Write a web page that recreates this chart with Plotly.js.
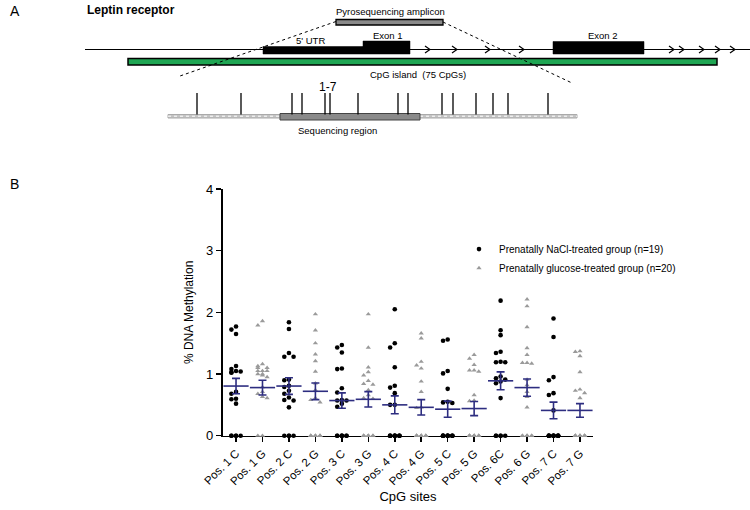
<!DOCTYPE html>
<html><head><meta charset="utf-8">
<script src="https://cdn.plot.ly/plotly-3.0.1.min.js"></script>
<style>html,body{margin:0;padding:0;background:#fff}#chart{width:750px;height:510px}</style>
</head><body><div id="chart"></div>
<script>
// ---------- Panel B data ----------
const categories = ['Pos. 1 C','Pos. 1 G','Pos. 2 C','Pos. 2 G','Pos. 3 C','Pos. 3 G','Pos. 4 C','Pos. 4 G','Pos. 5 C','Pos. 5 G','Pos. 6C','Pos. 6 G','Pos. 7 C','Pos. 7 G'];
const seriesNames = ['Prenatally NaCl-treated group (n=19)', 'Prenatally glucose-treated group (n=20)'];
const yTicks = [0, 1, 2, 3, 4];

const nacl1 = [1.77,1.72,1.65,1.13,1.08,1.05,1.04,1.03,1.02,0.71,0.68,0.60,0.59,0.52,0,0,0,0,0];
const gluc1 = [1.86,1.79,1.16,1.13,1.10,1.10,1.05,1.05,1.05,1.00,1.00,0.98,0.95,0.79,0.71,0.68,0.63,0.61,0,0];
const nacl2 = [1.84,1.73,1.34,1.28,1.28,0.91,0.90,0.81,0.79,0.73,0.68,0.62,0.58,0.57,0.46,0,0,0,0];
const gluc2 = [1.97,1.71,1.50,1.32,1.21,1.04,0.85,0.74,0.61,0.58,0.54,0,0,0,0,0,0,0,0,0];
const nacl3 = [1.47,1.43,1.35,1.09,1.08,0.77,0.70,0.58,0.57,0.57,0.52,0.47,0,0,0,0,0,0,0];
const gluc3 = [1.97,1.43,1.11,1.03,0.98,0.89,0.84,0.83,0.74,0.66,0.61,0.60,0,0,0,0,0,0,0,0];
const nacl4 = [2.05,1.50,1.43,1.11,0.81,0.78,0.69,0.50,0.50,0,0,0,0,0,0,0,0,0,0];
const gluc4 = [1.66,1.58,1.20,1.14,1.09,0.88,0.71,0.46,0.45,0,0,0,0,0,0,0,0,0,0,0];
const nacl5 = [1.56,1.54,1.05,1.01,0.76,0.55,0.54,0.53,0,0,0,0,0,0,0,0,0,0,0];
const gluc5 = [1.31,1.25,1.15,1.06,1.06,1.04,0.66,0.57,0.56,0,0,0,0,0,0,0,0,0,0,0];
const nacl6 = [2.19,1.71,1.63,1.36,1.34,1.20,1.19,1.19,0.96,0.93,0.91,0.88,0.85,0.61,0,0,0,0,0];
const gluc6 = [2.21,2.10,1.76,1.42,1.31,1.18,1.18,1.17,0.91,0.82,0.71,0.63,0.46,0,0,0,0,0,0,0];
const nacl7 = [1.90,1.60,0.95,0.90,0.69,0.66,0.41,0,0,0,0,0,0,0,0,0,0,0,0];
const gluc7 = [1.37,1.36,1.29,1.03,0.75,0.73,0.69,0.61,0,0,0,0,0,0,0,0,0,0,0,0];

const meanValues = [0.805,0.78,0.805,0.72,0.57,0.59,0.50,0.46,0.43,0.44,0.89,0.78,0.41,0.41];
const semValues  = [0.125,0.12,0.135,0.135,0.125,0.125,0.145,0.125,0.13,0.115,0.145,0.14,0.135,0.11];

// ---------- Panel A diagram data (diagram units) ----------
const cpgSites = [197,241,292,302,325,330,358,398,408,442,453,476,493,508,548];
const chevronSites = [428,455,488,522,672,682,702,718,733];
const utrBlock = [263, 363];
const exon1Block = [363, 410];
const exon2Block = [553, 644];
const cpgIsland = [128, 717];
const amplicon = [336, 443];
const seqRegion = [280, 420];
const zoomBase = [168, 577];

// ---------- build ----------
const FONT = 'Arial, "Liberation Sans", sans-serif';
const NAVY = '#2d2d80';
const naclGroups = [nacl1,nacl2,nacl3,nacl4,nacl5,nacl6,nacl7];
const glucGroups = [gluc1,gluc2,gluc3,gluc4,gluc5,gluc6,gluc7];

// simple deterministic beeswarm spread (pixel scale of the axes)
const pxPerX = 370.4/14, pxPerY = 246.7/4, diam = 4.6, step = 0.175;
function swarm(vals, center){
  const placed = [], xs = [];
  vals.forEach(v => {
    let chosen = null;
    for (const k of [0,-1,1]) {
      const off = k*step;
      if (placed.every(p => Math.hypot((off-p.o)*pxPerX, (v-p.v)*pxPerY) >= diam)) { chosen = off; break; }
    }
    if (chosen === null) {
      const n = placed.filter(p => Math.abs(p.v - v) < 0.02).length;
      chosen = [0,-1,1][n % 3]*step;
    }
    placed.push({o: chosen, v: v});
    xs.push(center + chosen);
  });
  return xs;
}

function groupTrace(groups, offsetIdx, name, marker){
  let xs = [], ys = [];
  groups.forEach((g, i) => {
    xs = xs.concat(swarm(g, i*2 + offsetIdx));
    ys = ys.concat(g);
  });
  return {type:'scatter', mode:'markers', x:xs, y:ys, name:name, marker:marker,
          cliponaxis:false, xaxis:'x', yaxis:'y', hoverinfo:'y'};
}

const traces = [
  groupTrace(naclGroups, 0, seriesNames[0], {symbol:'circle', size:4.6, color:'#000'}),
  groupTrace(glucGroups, 1, seriesNames[1], {symbol:'triangle-up', size:4.6, color:'#9a9a9a'}),
  {type:'scatter', mode:'markers', x:categories.map((c,i)=>i), y:meanValues, showlegend:false,
   cliponaxis:false, xaxis:'x', yaxis:'y',
   marker:{symbol:'line-ew', size:18, color:NAVY, line:{color:NAVY, width:1.6}},
   error_y:{type:'data', array:semValues, visible:true, color:NAVY, thickness:1.6, width:4}}
];

// diagram shapes
const Y = {line:49.5};
const shapes = [];
function rect(x0,x1,y0,y1,fill,lw,lc){ shapes.push({type:'rect', xref:'x2', yref:'y2', x0:x0,x1:x1,y0:y0,y1:y1, fillcolor:fill, line:{color:lc||'#000', width:lw}, layer:'above'}); }
function line(x0,y0,x1,y1,w,dash,c){ shapes.push({type:'line', xref:'x2', yref:'y2', x0:x0,y0:y0,x1:x1,y1:y1, line:{color:c||'#000', width:w, dash:dash||'solid'}, layer:'above'}); }

line(85, Y.line, 750, Y.line, 1.2);
chevronSites.forEach(x => shapes.push({type:'path', xref:'x2', yref:'y2',
  path:`M ${x-3},${Y.line-3.5} L ${x+2},${Y.line} L ${x-3},${Y.line+3.5}`, line:{color:'#000', width:1.2}, layer:'above'}));
rect(utrBlock[0], utrBlock[1], 46.5, 54, '#000', 0.5);
rect(exon1Block[0], exon1Block[1], 41, 54, '#000', 0.5);
rect(exon2Block[0], exon2Block[1], 41.5, 54, '#000', 0.5);
rect(cpgIsland[0], cpgIsland[1], 58.5, 65, '#1fa653', 1.5);
rect(amplicon[0], amplicon[1], 19.5, 25, '#8a8a8a', 1.3);
line(amplicon[0], 21.5, 180, 76, 1, 'dot');
line(amplicon[1], 22, 572, 83, 1, 'dot');
rect(zoomBase[0], zoomBase[1], 114.5, 118, '#c4c4c4', 1, '#aaaaaa');
line(zoomBase[0], 116.2, zoomBase[1], 116.2, 1, 'dot', '#ffffff');
rect(seqRegion[0], seqRegion[1], 113.5, 120, '#8a8a8a', 1, '#444');
cpgSites.forEach(x => line(x, 93, x, 114.5, 1.3));

function txt(text, x, y, size, opts){
  return Object.assign({text:text, x:x, y:y, xref:'x2', yref:'y2', showarrow:false,
    font:{family:FONT, size:size, color:'#000'}, xanchor:'center', yanchor:'middle'}, opts||{});
}
const annotations = [
  txt('A', 8, 11, 14, {xanchor:'left'}),
  txt('B', 8, 184, 14, {xanchor:'left'}),
  txt('<b>Leptin receptor</b>', 85, 10, 12, {xanchor:'left'}),
  txt('Pyrosequencing amplicon', 390, 11, 9.5),
  txt("5' UTR", 310, 40.5, 9.5),
  txt('Exon 1', 388, 35, 9.5),
  txt('Exon 2', 603, 35, 9.5),
  txt('CpG island  (75 CpGs)', 418, 74, 9.5),
  txt('1-7', 328, 87, 12),
  txt('Sequencing region', 337, 130, 9.5)
];

const layout = {
  width:750, height:510, margin:{l:0, r:0, t:0, b:0},
  paper_bgcolor:'#fff', plot_bgcolor:'rgba(0,0,0,0)',
  font:{family:FONT, color:'#000'},
  showlegend:true,
  legend:{x:0.612, y:0.54, xanchor:'left', yanchor:'top', font:{size:10, family:FONT}, bgcolor:'rgba(0,0,0,0)', tracegroupgap:0},
  xaxis:{domain:[222.8/750, 593.2/750], range:[-0.5, 13.5], tickvals:categories.map((c,i)=>i), ticktext:categories,
    tickangle:-45, ticks:'outside', ticklen:5, tickwidth:1.5, tickcolor:'#000', showline:true, linewidth:1.5, linecolor:'#000',
    showgrid:false, zeroline:false, tickfont:{size:11.5, family:FONT}, layer:'below traces', anchor:'y',
    title:{text:'CpG sites', font:{size:13, family:FONT}, standoff:5}},
  yaxis:{domain:[(510-435.7)/510, (510-189)/510], range:[0,4], tickvals:yTicks, ticks:'outside', ticklen:5, tickwidth:1.5,
    tickcolor:'#000', showline:true, linewidth:2, linecolor:'#000', showgrid:false, zeroline:false,
    tickfont:{size:13, family:FONT}, anchor:'x', layer:'below traces',
    title:{text:'% DNA Methylation', font:{size:12, family:FONT}, standoff:10}},
  xaxis2:{domain:[0,1], range:[0,750], visible:false, anchor:'y2', fixedrange:true},
  yaxis2:{domain:[0,1], range:[510,0], visible:false, anchor:'x2', fixedrange:true},
  shapes:shapes, annotations:annotations
};

Plotly.newPlot('chart', traces, layout, {displayModeBar:false, staticPlot:true});
</script></body></html>
